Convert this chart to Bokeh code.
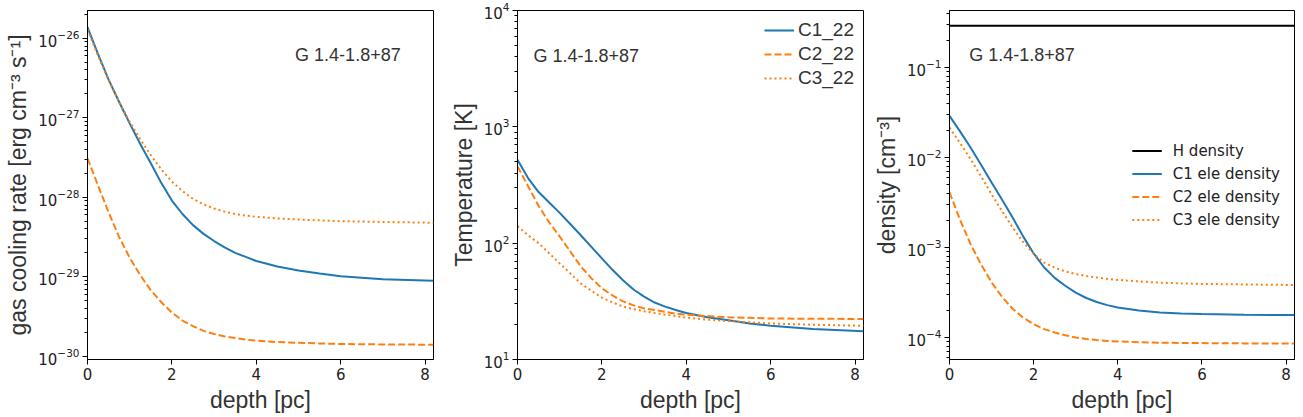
from bokeh.plotting import figure
from bokeh.layouts import row
from bokeh.models import Range1d, Legend, LegendItem, Label, LogTicker
from bokeh.embed import file_html
from bokeh.resources import INLINE

# ---------------- data ----------------
depth = [0, 0.25, 0.5, 0.75, 1, 1.25, 1.5, 1.75, 2, 2.25, 2.5, 2.75, 3, 3.25, 3.5, 3.75,
         4, 4.5, 5, 5.5, 6, 7, 8.2]

# gas cooling rate [erg cm^-3 s^-1]
cool_c1 = [1.38e-26, 6.31e-27, 3.02e-27, 1.58e-27, 8.51e-28, 4.68e-28, 2.69e-28, 1.51e-28,
           9.1e-29, 6.17e-29, 4.47e-29, 3.47e-29, 2.82e-29, 2.34e-29, 2.0e-29, 1.78e-29,
           1.58e-29, 1.35e-29, 1.2e-29, 1.1e-29, 1.02e-29, 9.3e-30, 8.9e-30]
cool_c2 = [3.09e-28, 1.41e-28, 6.46e-29, 3.16e-29, 1.74e-29, 1.05e-29, 6.76e-30, 4.79e-30,
           3.55e-30, 2.82e-30, 2.4e-30, 2.09e-30, 1.91e-30, 1.78e-30, 1.7e-30, 1.62e-30,
           1.58e-30, 1.51e-30, 1.48e-30, 1.45e-30, 1.43e-30, 1.41e-30, 1.40e-30]
cool_c3 = [1.29e-26, 6.03e-27, 2.95e-27, 1.58e-27, 8.91e-28, 5.37e-28, 3.39e-28, 2.24e-28,
           1.58e-28, 1.2e-28, 9.55e-29, 8.13e-29, 7.24e-29, 6.61e-29, 6.17e-29, 5.89e-29,
           5.69e-29, 5.43e-29, 5.25e-29, 5.13e-29, 5.01e-29, 4.9e-29, 4.79e-29]

# temperature [K]
temp_c1 = [520, 363, 275, 224, 182, 146, 117, 93, 74, 59, 48, 40, 34.7, 30.9, 28.5, 26.6,
           25.1, 23.1, 21.7, 20.4, 19.5, 18.3, 17.5]
temp_c2 = [457, 309, 209, 151, 114, 85, 63, 50, 41, 35.5, 31.6, 29.2, 27.5, 26.6, 25.7, 24.8,
           24.3, 23.6, 23.1, 22.8, 22.5, 22.4, 22.3]
temp_c3 = [140, 117, 100, 82, 67, 55, 45, 39, 34, 31, 28.6, 27.1, 26, 25.1, 24.3, 23.6,
           22.9, 22, 21.4, 20.9, 20.4, 19.9, 19.5]

# density [cm^-3]
dens_h = [0.29, 0.29, 0.29, 0.29, 0.29, 0.29, 0.29, 0.29, 0.29, 0.29, 0.29, 0.29,
          0.29, 0.29, 0.29, 0.29, 0.29, 0.29, 0.29, 0.29, 0.29, 0.29, 0.29]
dens_c1 = [0.029, 0.0195, 0.0129, 0.0083, 0.00527, 0.00339, 0.00215, 0.00133, 8.6e-4,
           6.0e-4, 4.6e-4, 3.76e-4, 3.16e-4, 2.75e-4, 2.48e-4, 2.29e-4, 2.16e-4, 2.0e-4,
           1.9e-4, 1.85e-4, 1.82e-4, 1.79e-4, 1.78e-4]
dens_c2 = [0.0041, 0.00204, 0.00109, 6.5e-4, 4.1e-4, 2.82e-4, 2.09e-4, 1.66e-4, 1.41e-4,
           1.24e-4, 1.14e-4, 1.06e-4, 1.0e-4, 9.66e-5, 9.38e-5, 9.18e-5, 9.04e-5, 8.87e-5,
           8.77e-5, 8.71e-5, 8.67e-5, 8.61e-5, 8.57e-5]
dens_c3 = [0.0215, 0.0145, 0.0096, 0.0062, 0.0039, 0.00254, 0.00167, 0.00115, 8.5e-4,
           6.8e-4, 5.96e-4, 5.43e-4, 5.07e-4, 4.83e-4, 4.65e-4, 4.49e-4, 4.37e-4, 4.2e-4,
           4.07e-4, 4.0e-4, 3.94e-4, 3.89e-4, 3.83e-4]

model_labels = ["C1_22", "C2_22", "C3_22"]
dens_labels = ["H density", "C1 ele density", "C2 ele density", "C3 ele density"]
annotation = "G 1.4-1.8+87"

BLUE = "#1f77b4"
ORANGE = "#ff7f0e"
DASH = "7 3"
DOT = "2 3"
LW = 2

LABEL_FONT = "Liberation Sans"
TICK_FONT = "DejaVu Sans"


def make_fig(ylo, yhi, left, right, fw):
    p = figure(frame_width=fw, frame_height=349, y_axis_type="log",
               x_range=Range1d(0, 8.2), y_range=Range1d(ylo, yhi),
               output_backend="svg", toolbar_location=None,
               min_border_left=left, min_border_right=right,
               min_border_top=10, min_border_bottom=58,
               background_fill_color="white", border_fill_color="white")
    p.xgrid.visible = False
    p.ygrid.visible = False
    p.outline_line_color = "black"
    p.outline_line_width = 1
    p.outline_line_alpha = 1
    for ax in (p.xaxis[0], p.yaxis[0]):
        ax.axis_line_color = "black"
        ax.major_tick_in = 0
        ax.major_tick_out = 5
        ax.minor_tick_in = 0
        ax.minor_tick_out = 3
        ax.major_tick_line_color = "black"
        ax.minor_tick_line_color = "black"
        ax.major_label_text_font = TICK_FONT
        ax.major_label_text_font_size = "15px"
        ax.major_label_text_color = "#222222"
        ax.major_label_standoff = 3
        ax.axis_label_text_font = LABEL_FONT
        ax.axis_label_text_font_size = "23px"
        ax.axis_label_text_font_style = "normal"
        ax.axis_label_text_color = "#333333"
        ax.axis_label_standoff = 4
    p.xaxis.ticker = [0, 2, 4, 6, 8]
    p.xaxis.minor_tick_line_color = None
    p.xaxis.axis_label = "depth [pc]"
    p.yaxis.ticker = LogTicker(desired_num_ticks=6, num_minor_ticks=10)
    return p


# ---------- panel 1 ----------
p1 = make_fig(10 ** -30.04, 10 ** -25.65, 87, 7, 346)
p1.yaxis.axis_label = "gas cooling rate [erg cm⁻³ s⁻¹]"
p1.line(depth, cool_c1, line_color=BLUE, line_width=LW)
p1.line(depth, cool_c2, line_color=ORANGE, line_width=LW, line_dash=DASH)
p1.line(depth, cool_c3, line_color=ORANGE, line_width=LW, line_dash=DOT)
p1.add_layout(Label(x=4.92, y=10 ** -26.21, text=annotation, text_font=LABEL_FONT,
                    text_font_size="18px", text_color="#333333", text_baseline="middle"))

# ---------- panel 2 ----------
p2 = make_fig(10, 1e4, 77, 7, 346)
p2.yaxis.axis_label = "Temperature [K]"
r21 = p2.line(depth, temp_c1, line_color=BLUE, line_width=LW)
r22 = p2.line(depth, temp_c2, line_color=ORANGE, line_width=LW, line_dash=DASH)
r23 = p2.line(depth, temp_c3, line_color=ORANGE, line_width=LW, line_dash=DOT)
p2.add_layout(Label(x=0.38, y=4100, text=annotation, text_font=LABEL_FONT,
                    text_font_size="18px", text_color="#333333", text_baseline="middle"))
leg2 = Legend(items=[LegendItem(label=model_labels[0], renderers=[r21]),
                     LegendItem(label=model_labels[1], renderers=[r22]),
                     LegendItem(label=model_labels[2], renderers=[r23])],
              location="top_right", border_line_color=None, background_fill_alpha=0,
              label_text_font=LABEL_FONT, label_text_font_size="19px",
              label_text_color="#333333", glyph_width=30, glyph_height=20,
              label_height=20, spacing=2, label_standoff=4, padding=4, margin=9)
p2.add_layout(leg2)

# ---------- panel 3 ----------
p3 = make_fig(10 ** -4.244, 10 ** -0.367, 77, 11, 345)
p3.yaxis.axis_label = "density [cm⁻³]"
r30 = p3.line(depth, dens_h, line_color="black", line_width=LW)
r31 = p3.line(depth, dens_c1, line_color=BLUE, line_width=LW)
r32 = p3.line(depth, dens_c2, line_color=ORANGE, line_width=LW, line_dash=DASH)
r33 = p3.line(depth, dens_c3, line_color=ORANGE, line_width=LW, line_dash=DOT)
p3.add_layout(Label(x=0.47, y=0.136, text=annotation, text_font=LABEL_FONT,
                    text_font_size="18px", text_color="#333333", text_baseline="middle"))
leg3 = Legend(items=[LegendItem(label=dens_labels[0], renderers=[r30]),
                     LegendItem(label=dens_labels[1], renderers=[r31]),
                     LegendItem(label=dens_labels[2], renderers=[r32]),
                     LegendItem(label=dens_labels[3], renderers=[r33])],
              location="center_right", border_line_color=None, background_fill_alpha=0,
              label_text_font=TICK_FONT, label_text_font_size="15px",
              label_text_color="#222222", glyph_width=30, glyph_height=20,
              label_height=20, spacing=3, label_standoff=11, padding=4, margin=14)
p3.add_layout(leg3)

layout = row(p1, p2, p3, spacing=0)

with open("out.html", "w") as f:
    f.write(file_html(layout, INLINE))
